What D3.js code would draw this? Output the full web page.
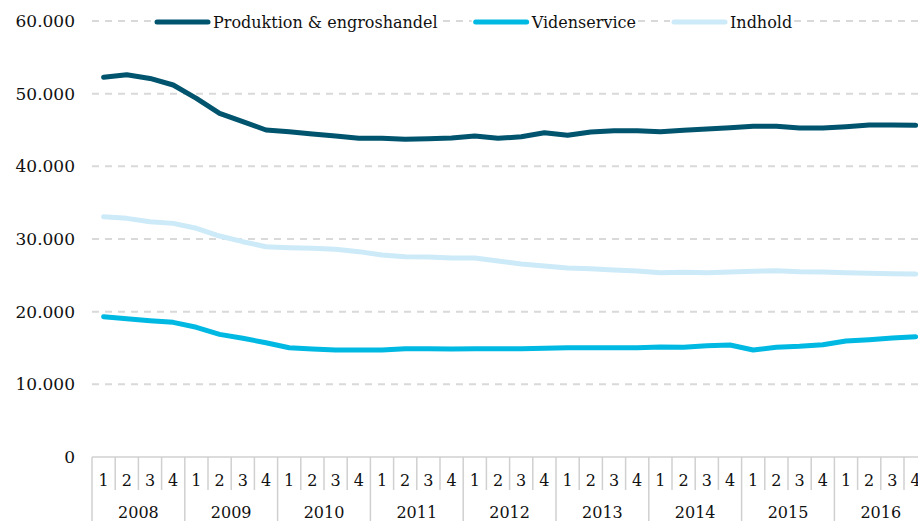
<!DOCTYPE html>
<html>
<head>
<meta charset="utf-8">
<script src="https://cdn.jsdelivr.net/npm/d3@7"></script>
<style>
  body { margin: 0; background: #fff; overflow: hidden; }
  text { font-family: "DejaVu Serif", Georgia, serif; fill: #111; }
</style>
</head>
<body>
<div id="chart"></div>
<script>
var years = ['2008', '2009', '2010', '2011', '2012', '2013', '2014', '2015', '2016'];
var quarters = ['1', '2', '3', '4'];
var seriesNames = ['Produktion & engroshandel', 'Videnservice', 'Indhold'];
var seriesColors = ['#00546e', '#00b9e3', '#cdeaf8'];

var produktion = [52250, 52600, 52100, 51190, 49360, 47300, 46140, 45000, 44770, 44450, 44170, 43850,
                  43850, 43720, 43800, 43900, 44170, 43850, 44080, 44630, 44270, 44720, 44900, 44900,
                  44770, 44950, 45130, 45320, 45500, 45500, 45270, 45270, 45450, 45690, 45690, 45650];
var videnservice = [19310, 19030, 18760, 18530, 17850, 16880, 16330, 15730, 15040, 14860, 14720, 14720,
                    14720, 14900, 14900, 14860, 14900, 14900, 14900, 14950, 15040, 15040, 15040, 15040,
                    15140, 15100, 15320, 15410, 14720, 15100, 15230, 15460, 15960, 16150, 16380, 16560];
var indhold = [33070, 32840, 32380, 32150, 31470, 30410, 29630, 28940, 28800, 28720, 28580, 28260,
               27800, 27570, 27520, 27380, 27380, 26970, 26560, 26280, 26010, 25910, 25730, 25600,
               25360, 25410, 25360, 25460, 25550, 25640, 25500, 25460, 25360, 25280, 25220, 25180];
var yTicks = [0, 10000, 20000, 30000, 40000, 50000, 60000];

var width = 918, height = 521;
var left = 92, qWidth = 23.2, axisY = 457, topY = 21;

// one key per quarter, e.g. "2008-1"
var keys = [];
years.forEach(function(y) { quarters.forEach(function(q) { keys.push(y + '-' + q); }); });

var x = d3.scaleBand().domain(keys).range([left, left + keys.length * qWidth]);
var xYear = d3.scaleBand().domain(years).range([left, left + keys.length * qWidth]);
var y = d3.scaleLinear().domain([0, 60000]).range([axisY, topY]);

var fmt = function(v) { return d3.format(',')(v).replace(/,/g, '.'); };

var svg = d3.select('#chart').append('svg')
    .attr('width', width)
    .attr('height', height);

// grid
svg.append('g').selectAll('line')
    .data(yTicks.filter(function(d) { return d > 0; }))
  .enter().append('line')
    .attr('x1', left).attr('x2', width)
    .attr('y1', function(d) { return y(d); })
    .attr('y2', function(d) { return y(d); })
    .attr('stroke', '#d9d9d9')
    .attr('stroke-width', 2)
    .attr('stroke-dasharray', '7,6');

// y labels
svg.append('g').selectAll('text')
    .data(yTicks)
  .enter().append('text')
    .attr('x', 75)
    .attr('y', function(d) { return y(d); })
    .attr('dy', '0.35em')
    .attr('text-anchor', 'end')
    .style('font-size', '17px')
    .text(fmt);

// x axis: baseline, quarter and year separators
var ax = svg.append('g').attr('stroke', '#d0d0d0').attr('stroke-width', 1.5);
ax.append('line')
    .attr('x1', left).attr('x2', width)
    .attr('y1', axisY).attr('y2', axisY);
ax.selectAll('.qsep')
    .data(keys)
  .enter().append('line')
    .attr('x1', function(d) { return x(d); })
    .attr('x2', function(d) { return x(d); })
    .attr('y1', axisY)
    .attr('y2', function(d) { return d.slice(-1) === '1' ? height : 490; });

svg.append('g').selectAll('text')
    .data(keys)
  .enter().append('text')
    .attr('x', function(d) { return x(d) + x.bandwidth() / 2; })
    .attr('y', 480)
    .attr('dy', '0.35em')
    .attr('text-anchor', 'middle')
    .style('font-size', '16px')
    .text(function(d) { return d.split('-')[1]; });

svg.append('g').selectAll('text')
    .data(years)
  .enter().append('text')
    .attr('x', function(d) { return xYear(d) + xYear.bandwidth() / 2; })
    .attr('y', 512)
    .attr('dy', '0.35em')
    .attr('text-anchor', 'middle')
    .style('font-size', '16px')
    .text(function(d) { return d; });

// lines
var line = d3.line()
    .x(function(d, i) { return x(keys[i]) + x.bandwidth() / 2; })
    .y(function(d) { return y(d); });

var allSeries = [produktion, videnservice, indhold];
svg.append('g').selectAll('path')
    .data(allSeries.slice().reverse())
  .enter().append('path')
    .attr('d', line)
    .attr('fill', 'none')
    .attr('stroke', function(d, i) { return seriesColors[2 - i]; })
    .attr('stroke-width', 5)
    .attr('stroke-linejoin', 'round')
    .attr('stroke-linecap', 'round');

// legend
var legend = svg.append('g');
var lx = 155, ly = 22;
seriesNames.forEach(function(name, i) {
  var g = legend.append('g');
  var bg = g.append('rect').attr('fill', '#fff');
  g.append('line')
      .attr('x1', lx + 2).attr('x2', lx + 53)
      .attr('y1', ly).attr('y2', ly)
      .attr('stroke', seriesColors[i])
      .attr('stroke-width', 5)
      .attr('stroke-linecap', 'round');
  var t = g.append('text')
      .attr('x', lx + 58)
      .attr('y', ly)
      .attr('dy', '0.35em')
      .style('font-size', '16px')
      .text(name);
  var w = t.node().getComputedTextLength();
  bg.attr('x', lx - 2).attr('y', ly - 10).attr('width', 58 + w + 4).attr('height', 20);
  lx += 58 + w + 36;
});
</script>
</body>
</html>
